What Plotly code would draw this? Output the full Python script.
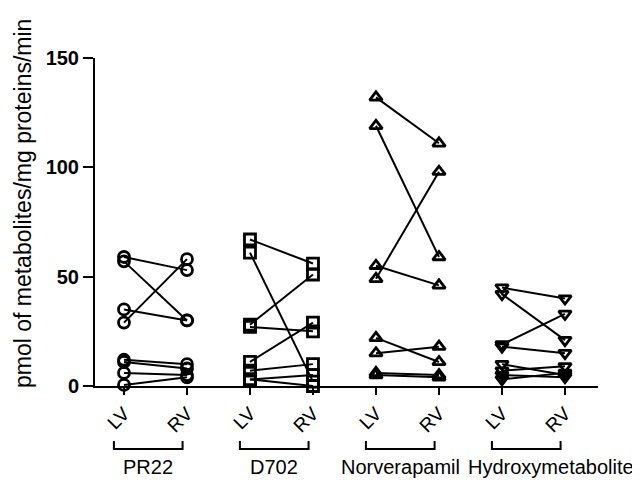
import plotly.graph_objects as go

groups = ["PR22", "D702", "Norverapamil", "Hydroxymetabolite"]
tick_labels = ["LV", "RV", "LV", "RV", "LV", "RV", "LV", "RV"]
symbols = ["circle-open", "square-open", "triangle-up-open", "triangle-down-open"]

pr22_lv = [59, 57, 35, 29, 12, 11, 6, 0.5]
pr22_rv = [53, 30, 30, 58, 10, 8, 5, 4]
d702_lv = [67, 61, 28, 27, 11, 7, 3, 3]
d702_rv = [56, 2, 51, 25, 29, 10, 5, 0]
norv_lv = [132, 119, 55, 49, 22, 15, 6, 5]
norv_rv = [111, 59, 46, 98, 11, 18, 5, 4]
hydr_lv = [45, 42, 19, 18, 10, 7, 5, 3]
hydr_rv = [40, 21, 33, 15, 5, 9, 4, 6]

lv_data = [pr22_lv, d702_lv, norv_lv, hydr_lv]
rv_data = [pr22_rv, d702_rv, norv_rv, hydr_rv]

FONT = "Liberation Sans, Arial"

fig = go.Figure()
for g, (lv, rv) in enumerate(zip(lv_data, rv_data)):
    xs, ys = [], []
    for a, b in zip(lv, rv):
        xs += [2 * g, 2 * g + 1, None]
        ys += [a, b, None]
    fig.add_trace(go.Scatter(
        x=xs, y=ys, mode="lines+markers", cliponaxis=False,
        line=dict(color="black", width=2),
        marker=dict(symbol=symbols[g], size=11, color="black",
                    line=dict(width=2.8, color="black")),
        showlegend=False))

shapes = []
annotations = []
for g, name in enumerate(groups):
    x0, x1 = 2 * g - 0.16, 2 * g + 0.93
    shapes.append(dict(type="path", xref="x", yref="paper",
                       path=f"M {x0} -0.168 L {x0} -0.192 L {x1} -0.192 L {x1} -0.168",
                       line=dict(color="black", width=2)))
    if g < 3:
        annotations.append(dict(x=(x0 + x1) / 2, y=-0.248, xref="x", yref="paper",
                                text=name, showarrow=False, xanchor="center", yanchor="middle",
                                font=dict(family=FONT, size=20, color="black")))
    else:
        annotations.append(dict(x=1.076, y=-0.248, xref="paper", yref="paper",
                                text=name, showarrow=False, xanchor="right", yanchor="middle",
                                font=dict(family=FONT, size=20, color="black")))

annotations.append(dict(x=-0.143, y=0.555, xref="paper", yref="paper",
                        text="pmol of metabolites/mg proteins/min", textangle=-90,
                        showarrow=False, xanchor="center", yanchor="middle",
                        font=dict(family=FONT, size=23, color="black")))

fig.update_layout(
    width=640, height=480,
    margin=dict(l=87, r=50, t=50, b=102),
    plot_bgcolor="white", paper_bgcolor="white",
    shapes=shapes, annotations=annotations,
    xaxis=dict(range=[-0.46, 7.524], tickvals=list(range(8)), ticktext=tick_labels,
               tickangle=-45, ticks="outside", ticklen=7, tickwidth=2, tickcolor="black",
               showline=True, linecolor="black", linewidth=2, showgrid=False, zeroline=False,
               tickfont=dict(family=FONT, size=19, color="black")),
    yaxis=dict(range=[0, 150], tickvals=[0, 50, 100, 150], ticks="outside", ticklen=10,
               tickwidth=2, tickcolor="black", showline=True, linecolor="black", linewidth=2,
               showgrid=False, zeroline=False,
               tickfont=dict(family=FONT, size=20, color="black", weight="bold")),
)

fig.write_html("out.html")
